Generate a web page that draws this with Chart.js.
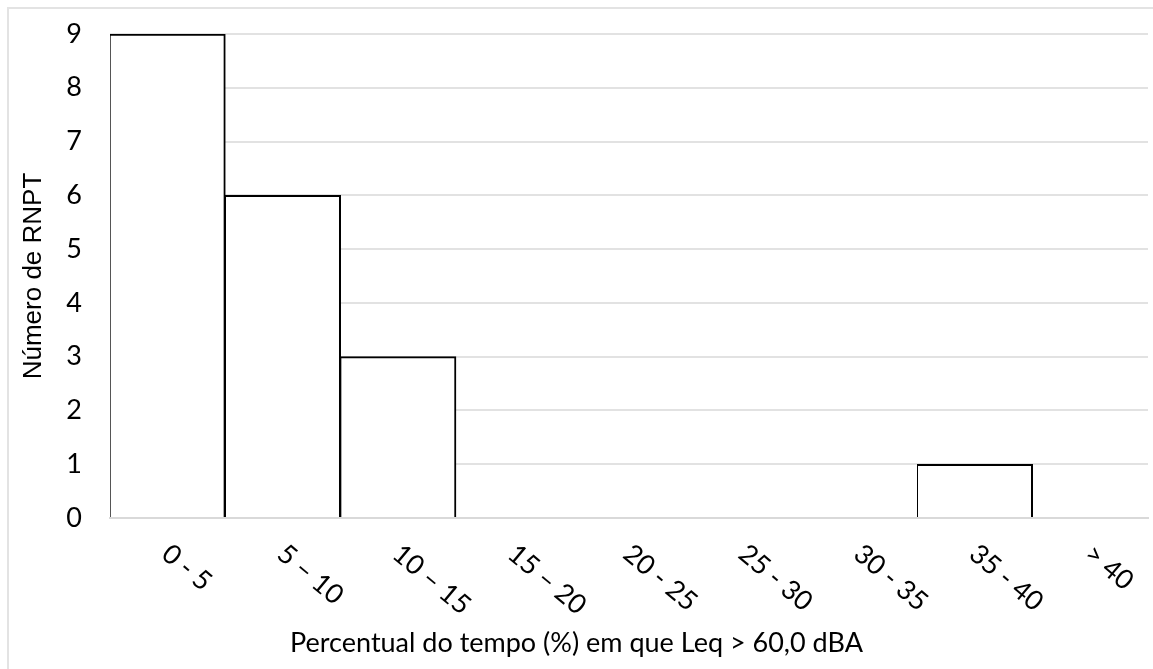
<!DOCTYPE html>
<html>
<head>
<meta charset="utf-8">
<title>Número de RNPT</title>
<script src="https://cdn.jsdelivr.net/npm/chart.js@4.4.0/dist/chart.umd.min.js"></script>
<style>
    html, body { margin: 0; padding: 0; background: #fff; }
    #wrap { position: relative; width: 1153px; height: 669px; overflow: hidden; }
    #frame { position: absolute; left: 7px; top: 7px; width: 1200px; height: 700px;
             border-top: 2px solid #e3e3e3; border-left: 2px solid #e3e3e3; }
    #histo { position: absolute; left: 0; top: 0; }
</style>
</head>
<body>
<div id="wrap">
    <div id="frame"></div>
    <canvas id="histo" width="1153" height="669"></canvas>
</div>
<script>
const faixas = ['0 - 5', '5 \u2013 10', '10 \u2013 15', '15 \u2013 20', '20 - 25',
    '25 - 30', '30 - 35', '35 - 40', '> 40'];
const contagens = [9, 6, 3, 0, 0, 0, 0, 1, 0];
const yTicks = [0, 1, 2, 3, 4, 5, 6, 7, 8, 9];
const tituloX = 'Percentual do tempo (%) em que Leq > 60,0 dBA';

// slanted category labels (clockwise) plus the x title centred on the whole canvas
const eixoX = {
    id: 'eixoX',
    afterDraw(chart) {
        const ctx = chart.ctx;
        const xs = chart.scales.x;
        ctx.save();
        ctx.fillStyle = '#000';
        ctx.font = '27px Lato';
        ctx.textAlign = 'left';
        ctx.textBaseline = 'middle';
        faixas.forEach((txt, i) => {
            const x = xs.getPixelForTick(i);
            ctx.save();
            ctx.translate(x - 2, 550);
            ctx.rotate(40 * Math.PI / 180);
            ctx.fillText(txt, 0, 0);
            ctx.restore();
        });
        ctx.textAlign = 'center';
        ctx.textBaseline = 'alphabetic';
        ctx.fillText(tituloX, chart.width / 2, 652);
        ctx.restore();
    }
};

const ctx = document.getElementById('histo').getContext('2d');

const histo = new Chart(ctx, {
    type: 'bar',
    data: {
        labels: faixas,
        datasets: [{
            label: 'Número de RNPT',
            data: contagens,
            backgroundColor: '#ffffff',
            borderColor: '#000000',
            borderWidth: { left: 1, right: 2, top: 2, bottom: 0 },
            barPercentage: 1,
            categoryPercentage: 1
        }]
    },
    options: {
        responsive: false,
        animation: false,
        layout: { padding: { top: 34, right: 5, left: 0, bottom: 0 } },
        plugins: {
            legend: { display: false },
            tooltip: { enabled: false }
        },
        scales: {
            x: {
                grid: { display: false, drawTicks: false },
                border: { display: true, color: '#d9d9d9', width: 2 },
                ticks: { display: false },
                afterFit: s => { s.height = 151; }
            },
            y: {
                min: 0,
                max: 9,
                afterBuildTicks: s => { s.ticks = yTicks.map(v => ({ value: v })); },
                grid: { color: '#e2e2e2', lineWidth: 2, drawTicks: false },
                border: { display: false },
                ticks: {
                    padding: 28,
                    color: '#000',
                    font: { family: 'Lato', size: 27 }
                },
                title: {
                    display: true,
                    text: 'Número de RNPT',
                    font: { family: 'Liberation Sans', size: 26 },
                    color: '#000',
                    padding: { top: 18, bottom: 0 }
                },
                afterFit: s => {
                    s.width = 110;
                    s.paddingTop = 0;
                    s.paddingBottom = 0;
                }
            }
        }
    },
    plugins: [eixoX]
});
</script>
</body>
</html>
